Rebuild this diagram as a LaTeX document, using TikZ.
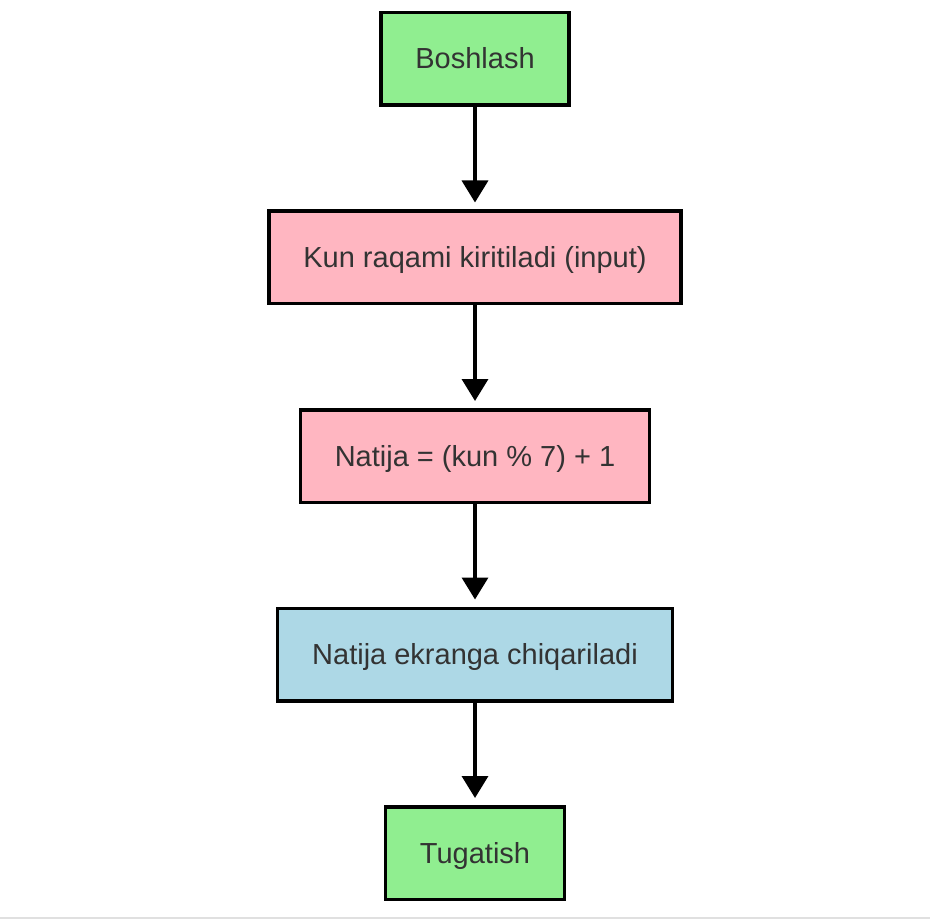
\documentclass[tikz,border=0pt]{standalone}
\usepackage{fontspec}
\setmainfont{Liberation Sans}
\usetikzlibrary{arrows.meta,positioning,shadows}
\definecolor{startgreen}{HTML}{90EE90}
\definecolor{steppink}{HTML}{FFB6C1}
\definecolor{outblue}{HTML}{ADD8E6}
\definecolor{textgray}{HTML}{333333}
\definecolor{rulegray}{HTML}{E0E0E0}
\tikzset{
  box/.style={draw=black, line width=3.5pt, minimum height=92.5pt, inner xsep=34.5pt,
    text height=20pt, text depth=0pt, text=textgray, font=\fontsize{29}{34}\selectfont,
    drop shadow={shadow xshift=1.5pt, shadow yshift=-1.5pt, opacity=0.18}},
  flow/.style={-{Triangle[width=26pt,length=22pt]}, line width=3.5pt, shorten >=7pt}
}

\begin{document}
\begin{tikzpicture}[x=1pt,y=1pt]
\useasboundingbox (0,0) rectangle (930,-920);
\node[box, fill=startgreen] (start) at (475,-59) {Boshlash};
\node[box, fill=steppink] (input) at (475,-257.5) {Kun raqami kiritiladi (input)};
\node[box, fill=steppink] (calc) at (475,-456) {Natija = (kun \% 7) + 1};
\node[box, fill=outblue] (output) at (475,-654.5) {Natija ekranga chiqariladi};
\node[box, fill=startgreen] (stop) at (475,-853) {Tugatish};
\draw[flow] (start) -- (input);
\draw[flow] (input) -- (calc);
\draw[flow] (calc) -- (output);
\draw[flow] (output) -- (stop);
\draw[rulegray, line width=2pt] (0,-918) -- (930,-918);
\end{tikzpicture}
\end{document}
